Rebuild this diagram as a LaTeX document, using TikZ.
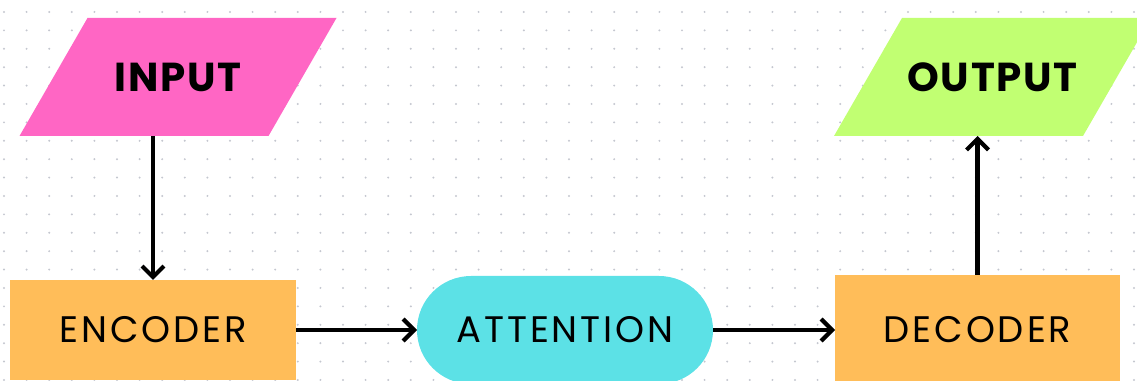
\documentclass[tikz,border=0pt]{standalone}
\usepackage{fontspec}
\setmainfont{Poppins}
\usetikzlibrary{arrows.meta,shapes.misc,backgrounds}
\definecolor{flpink}{HTML}{FF66C4}
\definecolor{flgreen}{HTML}{C1FF72}
\definecolor{florange}{HTML}{FFBD59}
\definecolor{flcyan}{HTML}{5CE1E6}
\definecolor{fldot}{HTML}{C4C7CF}
\tikzset{
  flio/.style={rectangle, minimum width=4.98cm, minimum height=2.36cm,
    inner sep=0pt, outer sep=0pt,
    font=\fontsize{23}{26}\selectfont\bfseries\addfontfeatures{LetterSpace=4}},
  flbox/.style={rectangle, fill=florange, inner sep=0pt, outer sep=0pt,
    font=\fontsize{21}{24}\selectfont\addfontfeatures{LetterSpace=8}},
  flterm/.style={rounded rectangle, fill=flcyan, inner sep=0pt, outer sep=0pt,
    minimum width=5.92cm, minimum height=2.16cm,
    font=\fontsize{21}{24}\selectfont\addfontfeatures{LetterSpace=8}},
  flarrow/.style={line width=2.4pt, draw=black, -{Straight Barb[length=2.2mm, width=4.4mm, line width=2.4pt]}},
  fldot/.style={fill=fldot},
}

\begin{document}
\begin{tikzpicture}
\useasboundingbox (0,0) rectangle (22.74,7.62);
\clip (0,0) rectangle (22.74,7.62);
% dotted background
\begin{pgfonlayer}{background}
\foreach \i in {0,...,50}
  \foreach \j in {0,...,20}
    \fill[fldot] (0.08+\i*0.452, 7.38-\j*0.368) circle (0.022);
\end{pgfonlayer}
% shapes
\node[flio] (input) at (3.56,6.08) {INPUT\hspace{0.4cm}};
\node[flio] (output) at (19.85,6.08) {OUTPUT};
\node[flbox, minimum width=5.72cm, minimum height=2.0cm] (encoder) at (3.06,1.02) {ENCODER\hspace{0.36cm}};
\node[flterm] (attention) at (11.30,1.02) {ATTENTION};
\node[flbox, minimum width=5.70cm, minimum height=2.2cm] (decoder) at (19.55,1.02) {DECODER};
% slanted fills behind the in/out nodes
\begin{pgfonlayer}{background}
\foreach \n/\c in {input/flpink, output/flgreen}
  \fill[\c] ([xshift=-0.68cm]\n.south west) -- ([xshift=-0.68cm]\n.south east)
    -- ([xshift=0.68cm]\n.north east) -- ([xshift=0.68cm]\n.north west) -- cycle;
\end{pgfonlayer}
% connectors
\draw[flarrow] (input.south -| encoder.north) -- (encoder.north);
\draw[flarrow] (encoder.east) -- (attention.west);
\draw[flarrow] (attention.east) -- (decoder.west);
\draw[flarrow] (decoder.north) -- (decoder.north |- output.south);
\end{tikzpicture}
\end{document}
